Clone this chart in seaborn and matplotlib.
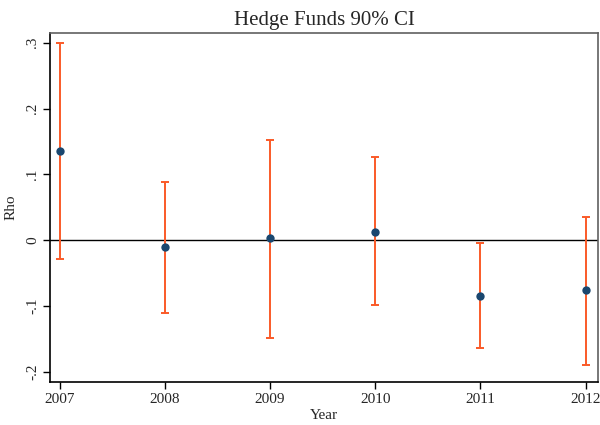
import pandas as pd
import matplotlib.pyplot as plt
import seaborn as sns

# values
YEARS = [2007, 2008, 2009, 2010, 2011, 2012]
RHO = [0.136, -0.010, 0.004, 0.013, -0.084, -0.076]
CI_LOW = [-0.029, -0.111, -0.148, -0.099, -0.163, -0.189]
CI_HIGH = [0.299, 0.089, 0.153, 0.126, -0.004, 0.036]
Y_TICKS = [-0.2, -0.1, 0.0, 0.1, 0.2, 0.3]
Y_TICK_LABELS = ["-.2", "-.1", "0", ".1", ".2", ".3"]

POINT_COLOR = "#1a476f"
CI_COLOR = "#fa5a28"


def main():
    df = pd.DataFrame({"Year": YEARS, "Rho": RHO, "lo": CI_LOW, "hi": CI_HIGH})

    sns.set_style("ticks")
    plt.rcParams["font.family"] = ["Liberation Serif", "DejaVu Serif"]

    fig = plt.figure(figsize=(6, 4.25), dpi=100)
    ax = fig.add_axes([50 / 600, 43.3 / 425, 548 / 600, 348.7 / 425])

    ax.axhline(0, color="black", lw=1.0, zorder=1)
    ax.errorbar(df["Year"], df["Rho"],
                yerr=[df["Rho"] - df["lo"], df["hi"] - df["Rho"]],
                fmt="none", ecolor=CI_COLOR, elinewidth=1.4,
                capsize=3, capthick=1.4, zorder=2)
    sns.scatterplot(data=df, x="Year", y="Rho", ax=ax, color=POINT_COLOR,
                    s=36, edgecolor=POINT_COLOR, linewidth=0, zorder=3)

    ax.set_xlim(2006.908, 2012.117)
    ax.set_ylim(-0.2148, 0.3148)
    ax.set_xticks(YEARS)
    ax.set_xticklabels([str(y) for y in YEARS], fontsize=11)
    ax.set_yticks(Y_TICKS)
    ax.set_yticklabels(Y_TICK_LABELS, fontsize=11, rotation=90, va="center")
    ax.tick_params(axis="both", direction="out", length=5, width=1,
                   color="black", pad=3)

    for side in ["left", "bottom"]:
        ax.spines[side].set_color("black")
        ax.spines[side].set_linewidth(1.2)
    for side in ["top", "right"]:
        ax.spines[side].set_visible(True)
        ax.spines[side].set_color("#606060")
        ax.spines[side].set_linewidth(1.2)

    ax.set_xlabel("Year", fontsize=11, labelpad=2)
    ax.set_ylabel("Rho", fontsize=11, labelpad=6)
    ax.set_title("Hedge Funds 90% CI", fontsize=15, pad=6)

    fig.savefig("out.png", dpi=100)


if __name__ == "__main__":
    main()
